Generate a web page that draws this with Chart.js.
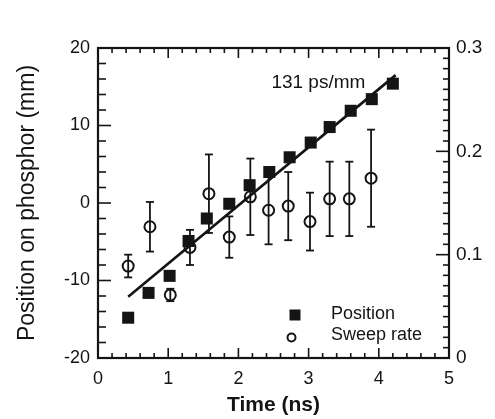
<!DOCTYPE html>
<html>
<head>
<meta charset="utf-8">
<script src="https://cdn.jsdelivr.net/npm/chart.js@4.4.1/dist/chart.umd.min.js"></script>
<style>
  body { margin: 0; background: #fff; }
  canvas { display: block; }
</style>
</head>
<body>
<canvas id="canvas" width="495" height="419"></canvas>
<script>
// position on phosphor (left axis, mm)
var timePos = [0.43, 0.72, 1.02, 1.29, 1.55, 1.87, 2.16, 2.44, 2.73, 3.03, 3.30, 3.60, 3.90, 4.20];
var position = [-14.8, -11.6, -9.4, -4.9, -2.0, -0.1, 2.3, 4.0, 5.9, 7.8, 9.8, 11.9, 13.4, 15.4];

// sweep rate (right axis) with error bars
var timeSweep = [0.43, 0.74, 1.03, 1.31, 1.58, 1.87, 2.17, 2.43, 2.71, 3.02, 3.30, 3.58, 3.89];
var sweepRate = [0.089, 0.127, 0.061, 0.107, 0.159, 0.117, 0.156, 0.143, 0.147, 0.132, 0.154, 0.154, 0.174];
var sweepErr = [0.011, 0.024, 0.006, 0.017, 0.038, 0.020, 0.037, 0.033, 0.033, 0.028, 0.036, 0.036, 0.047];

// linear fit through the position points
var fitTime = [0.43, 4.24];
var fitPos = [-12.1, 16.5];

var slopeText = '131 ps/mm';
var slopeAt = {x: 2.47, y: 14.8};

var ink = '#141414';
Chart.defaults.font.family = "'Liberation Sans', Arial, Helvetica, sans-serif";
Chart.defaults.color = ink;

function pts(xs, ys) {
  return xs.map(function(x, i) { return {x: x, y: ys[i]}; });
}

function line(ctx, x1, y1, x2, y2) {
  ctx.beginPath();
  ctx.moveTo(x1, y1);
  ctx.lineTo(x2, y2);
  ctx.stroke();
}

// box round the plot with ticks pointing inwards
var frame = {
  id: 'frame',
  afterDraw: function(chart) {
    var ctx = chart.ctx, a = chart.chartArea;
    var sx = chart.scales.x, sy = chart.scales.y, sr = chart.scales.y2;
    var i, p, len;
    ctx.save();
    ctx.strokeStyle = ink;
    ctx.lineWidth = 1.6;
    for (i = 0; i <= 25; i++) {
      p = sx.getPixelForValue(i * 0.2);
      len = (i % 5 === 0) ? 10 : 5;
      line(ctx, p, a.bottom, p, a.bottom - len);
      line(ctx, p, a.top, p, a.top + len);
    }
    for (i = 0; i <= 20; i++) {
      p = sy.getPixelForValue(-20 + i * 2);
      len = (i % 5 === 0) ? 13 : 8;
      line(ctx, a.left, p, a.left + len, p);
    }
    for (i = 0; i <= 30; i++) {
      p = sr.getPixelForValue(i * 0.01);
      len = (i % 10 === 0) ? 13 : 6;
      line(ctx, a.right, p, a.right - len, p);
    }
    ctx.lineWidth = 2.2;
    ctx.strokeRect(a.left, a.top, a.right - a.left, a.bottom - a.top);
    ctx.restore();
  }
};

var errorBars = {
  id: 'errorBars',
  afterDatasetsDraw: function(chart) {
    var ctx = chart.ctx, sx = chart.scales.x, sr = chart.scales.y2;
    ctx.save();
    ctx.strokeStyle = ink;
    ctx.lineWidth = 1.8;
    for (var i = 0; i < timeSweep.length; i++) {
      var x = sx.getPixelForValue(timeSweep[i]);
      var hi = sr.getPixelForValue(sweepRate[i] + sweepErr[i]);
      var lo = sr.getPixelForValue(sweepRate[i] - sweepErr[i]);
      line(ctx, x, hi, x, lo);
      line(ctx, x - 4, hi, x + 4, hi);
      line(ctx, x - 4, lo, x + 4, lo);
    }
    ctx.restore();
  }
};

// slope label and the legend inside the plot
var notes = {
  id: 'notes',
  afterDraw: function(chart) {
    var ctx = chart.ctx, a = chart.chartArea;
    var ds = chart.data.datasets;
    ctx.save();
    ctx.fillStyle = ink;
    ctx.strokeStyle = ink;
    ctx.textBaseline = 'alphabetic';
    ctx.textAlign = 'left';
    ctx.font = "19px 'Liberation Sans', Arial, sans-serif";
    ctx.fillText(slopeText, chart.scales.x.getPixelForValue(slopeAt.x), chart.scales.y.getPixelForValue(slopeAt.y));

    var lx = a.right - 154;
    ctx.font = "18px 'Liberation Sans', Arial, sans-serif";
    ctx.fillRect(lx - 5.5, a.top + 261.5, 11, 11);
    ctx.fillText(ds[0].label, lx + 36, a.top + 271);
    ctx.lineWidth = 2;
    ctx.beginPath();
    ctx.arc(lx - 3.5, a.top + 289.5, 4, 0, Math.PI * 2);
    ctx.stroke();
    ctx.fillText(ds[1].label, lx + 36, a.top + 291.5);
    ctx.restore();
  }
};

var ctx = document.getElementById('canvas').getContext('2d');
var myChart = new Chart(ctx, {
  type: 'scatter',
  data: {
    datasets: [{
      label: 'Position',
      data: pts(timePos, position),
      yAxisID: 'y',
      pointStyle: 'rect',
      pointRadius: 8.5,
      backgroundColor: ink,
      borderColor: ink,
      borderWidth: 0
    }, {
      label: 'Sweep rate',
      data: pts(timeSweep, sweepRate),
      yAxisID: 'y2',
      pointStyle: 'circle',
      pointRadius: 5.5,
      backgroundColor: 'rgba(0,0,0,0)',
      borderColor: ink,
      borderWidth: 2
    }, {
      label: 'fit',
      type: 'line',
      data: pts(fitTime, fitPos),
      yAxisID: 'y',
      borderColor: ink,
      borderWidth: 2.6,
      pointRadius: 0,
      fill: false
    }]
  },
  options: {
    responsive: false,
    animation: false,
    layout: { padding: { top: 48, left: 0, right: 0, bottom: 0 } },
    plugins: {
      legend: { display: false },
      tooltip: { enabled: false }
    },
    scales: {
      x: {
        type: 'linear',
        position: 'bottom',
        min: 0,
        max: 5,
        grid: { display: false, drawTicks: false },
        border: { display: false },
        ticks: { stepSize: 1, padding: 10, font: { size: 18 } },
        title: { display: true, text: 'Time (ns)', font: { size: 21, weight: 'bold' }, padding: { top: 0, bottom: 1 } },
        afterFit: function(s) { s.height = 61; }
      },
      y: {
        position: 'left',
        min: -20,
        max: 20,
        grid: { display: false, drawTicks: false },
        border: { display: false },
        ticks: { stepSize: 10, padding: 8, font: { size: 18 } },
        title: { display: true, text: 'Position on phosphor (mm)', font: { size: 23 }, padding: { top: 14, bottom: 0 } },
        afterFit: function(s) { s.width = 98; }
      },
      y2: {
        position: 'right',
        min: 0,
        max: 0.3,
        grid: { display: false, drawTicks: false },
        border: { display: false },
        ticks: {
          stepSize: 0.1,
          padding: 7,
          font: { size: 19 },
          callback: function(v) { return v === 0 ? '0' : v.toFixed(1); }
        },
        afterFit: function(s) { s.width = 46; }
      }
    }
  },
  plugins: [frame, errorBars, notes]
});
</script>
</body>
</html>
